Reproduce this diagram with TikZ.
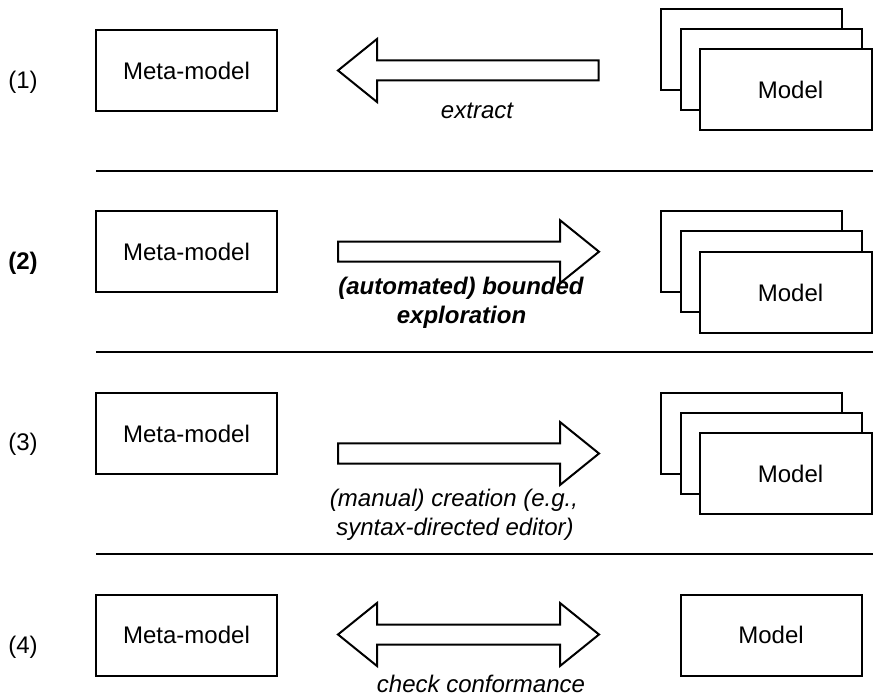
\documentclass[tikz,border=0pt]{standalone}
\usepackage{fontspec}
\setmainfont{Liberation Sans}
\newcommand\rblockarrow[1]{%
  \draw[fill=white] (338,#1-10) -- (560,#1-10) -- (560,#1-31.5) -- (599,#1)
    -- (560,#1+31.5) -- (560,#1+10) -- (338,#1+10) -- cycle;}
\begin{document}
\begin{tikzpicture}[x=1pt,y=-1pt,line width=2pt,line join=miter,
  txt/.style={font=\fontsize{24}{29}\selectfont, inner sep=0pt},
  box/.style={txt, draw, fill=white, minimum width=181pt, minimum height=81pt},
  lab/.style={txt, anchor=base},
  sep/.style={line width=2pt}]
\useasboundingbox (0,0) rectangle (873,700);

% row labels
\node[txt] (n1) at (23,82) {(1)};
\node[txt] (n2) at (23,263.5) {\bfseries (2)};
\node[txt] (n3) at (23,444.5) {(3)};
\node[txt] (n4) at (23,647) {(4)};

% meta-model boxes
\node[box] (mm1) at (186.5,70.5) {Meta-model};
\node[box] (mm2) at (186.5,252) {Meta-model};
\node[box] (mm3) at (186.5,433.5) {Meta-model};
\node[box] (mm4) at (186.5,635) {Meta-model};

% model stacks
\node[box] (m1a) at (751,50) {};
\node[box] (m1b) at (771,70) {};
\node[box, minimum width=172pt] (m1c) at (786,90) {\hspace*{9pt}Model};

\node[box] (m2a) at (751,252) {};
\node[box] (m2b) at (771,272) {};
\node[box, minimum width=172pt] (m2c) at (786,292.5) {\hspace*{9pt}Model};

\node[box] (m3a) at (751,433.5) {};
\node[box] (m3b) at (771,453.5) {};
\node[box, minimum width=172pt] (m3c) at (786,473.5) {\hspace*{9pt}Model};

\node[box] (m4) at (771,635) {Model};

% separators
\coordinate (s1l) at (96,171.5); \coordinate (s1r) at (873,171.5);
\coordinate (s2l) at (96,352.5); \coordinate (s2r) at (873,352.5);
\coordinate (s3l) at (96,554);   \coordinate (s3r) at (873,554);
\draw[sep] (s1l) -- (s1r);
\draw[sep] (s2l) -- (s2r);
\draw[sep] (s3l) -- (s3r);

% row 1: left block arrow
\draw[fill=white] (598.5,60.5) -- (377,60.5) -- (377,39) -- (338,70.5)
  -- (377,102) -- (377,80.5) -- (598.5,80.5) -- cycle;
\node[lab] (t1) at (477,118.5) {\itshape extract};

% row 2
\rblockarrow{251.7}
\node[lab] (t2a) at (461,295) {\bfseries\itshape (automated) bounded};
\node[lab] (t2b) at (461.5,324) {\bfseries\itshape exploration};

% row 3
\rblockarrow{453.5}
\node[lab] (t3a) at (454,506.5) {\itshape (manual) creation (e.g.,};
\node[lab] (t3b) at (455,535) {\itshape syntax-directed editor)};

% row 4: double block arrow
\draw[fill=white] (338,634.5) -- (377,603) -- (377,624.5) -- (560,624.5)
  -- (560,603) -- (599,634.5) -- (560,666) -- (560,644.5) -- (377,644.5)
  -- (377,666) -- cycle;
\node[lab] (t4) at (481,692.5) {\itshape check conformance};
\end{tikzpicture}
\end{document}
